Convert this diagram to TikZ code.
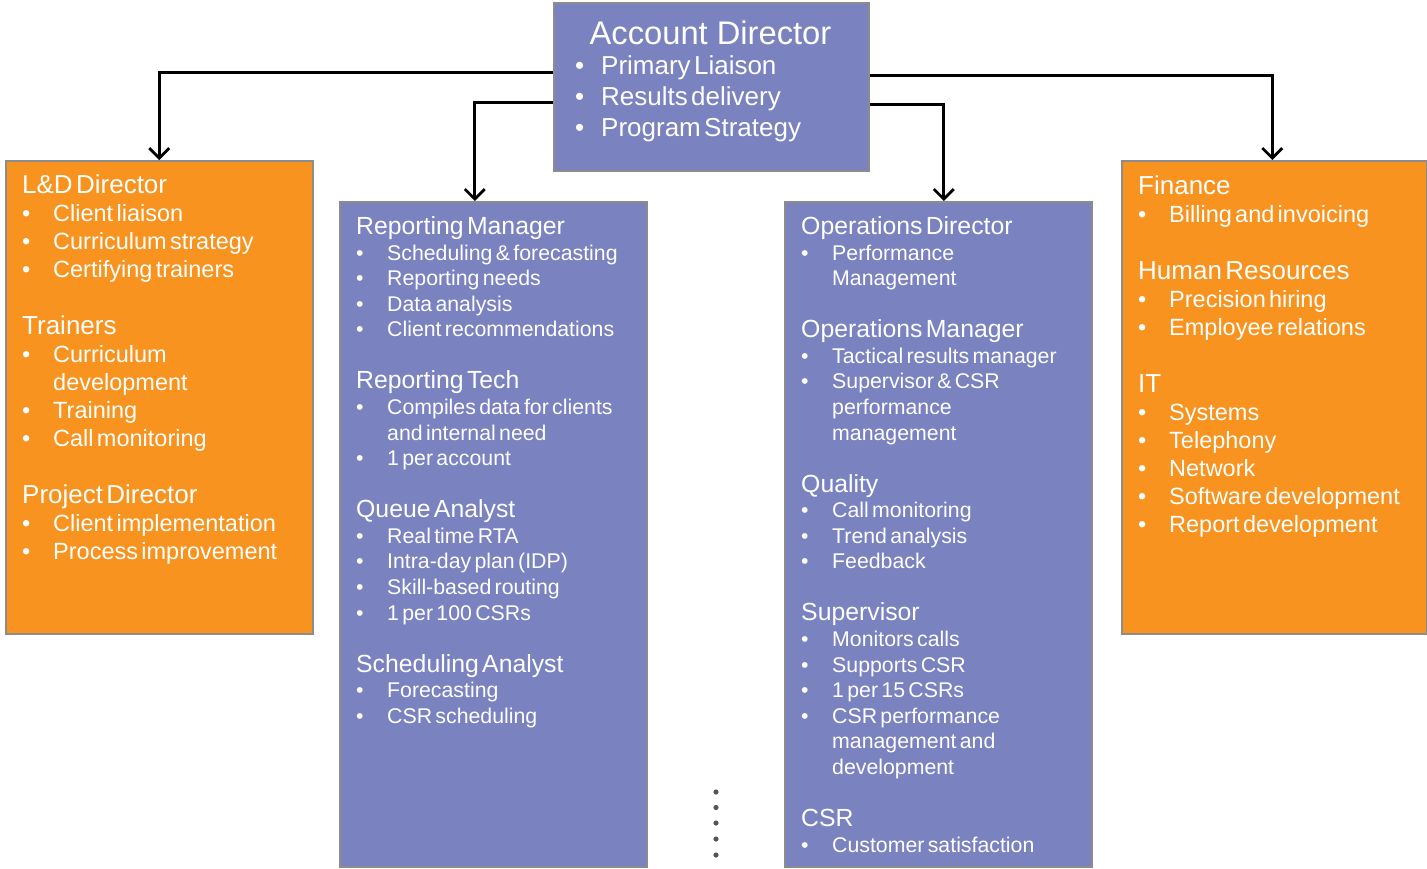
\documentclass[tikz,border=0pt]{standalone}
\usepackage{fontspec}
\setmainfont{Liberation Sans}
\usetikzlibrary{positioning,arrows.meta}

\definecolor{rolepurple}{RGB}{122,130,192}
\definecolor{roleorange}{RGB}{247,147,30}
\definecolor{roleline}{RGB}{140,140,140}
\definecolor{dotgray}{RGB}{85,85,85}

% headings and bullet lines inside the role boxes
\newcommand{\ohead}[1]{\noindent\fontsize{26}{28}\selectfont#1\par}
\newcommand{\oitem}[1]{\fontsize{23.5}{28}\selectfont\hangindent=31pt\hangafter=1\noindent\makebox[31pt][l]{\textbullet}#1\par}
\newcommand{\phead}[1]{\noindent\fontsize{24.8}{28}\selectfont#1\par}
\newcommand{\pitem}[1]{\fontsize{21.3}{25.6}\selectfont\hangindent=31pt\hangafter=1\noindent\makebox[31pt][l]{\textbullet}#1\par}
\newcommand{\aitem}[1]{\fontsize{26}{31}\selectfont\noindent\makebox[26pt][l]{\textbullet}#1\par}

\tikzset{
  rolebox/.style={draw=roleline, line width=1.5pt, minimum width=307pt, anchor=north west, inner sep=0pt},
  pbox/.style={rolebox, fill=rolepurple},
  obox/.style={rolebox, fill=roleorange},
  roletext/.style={anchor=base west, inner sep=0pt, text=white, align=left, text width=292pt},
  conn/.style={line width=2.8pt, -{Straight Barb[length=10pt,width=20pt]}}
}

\begin{document}
\begin{tikzpicture}[x=1pt, y=-1pt]
        \useasboundingbox (0,0) rectangle (1427,868);

        % Account Director on top
        \node[pbox, minimum width=315pt, minimum height=168pt] (ad) at (553,2) {};
        \node[anchor=base, inner sep=0pt, text=white, font=\fontsize{32.7}{36}\selectfont] (adtitle) at (710.5,44.5) {Account Director};
        \node[roletext, text width=285pt] (adlist) at (575,74) {%
          \aitem{Primary Liaison}
          \aitem{Results delivery}
          \aitem{Program Strategy}};

        % four role columns
        \node[obox, minimum height=473pt] (ld) at (5,160) {};
        \node[pbox, minimum height=665pt] (rep) at (339,201) {};
        \node[pbox, minimum height=665pt] (ops) at (784,201) {};
        \node[obox, minimum height=473pt, minimum width=305pt] (fin) at (1121,160) {};

        \node[roletext] (ldlist) at (22,193) {%
          \ohead{L\&D Director}
          \oitem{Client liaison}
          \oitem{Curriculum strategy}
          \oitem{Certifying trainers}
          \vspace{29pt}\ohead{Trainers}
          \oitem{Curriculum\newline development}
          \oitem{Training}
          \oitem{Call monitoring}
          \vspace{29pt}\ohead{Project Director}
          \oitem{Client implementation}
          \oitem{Process improvement}};

        \node[roletext] (replist) at (356,234.5) {%
          \phead{Reporting Manager}
          \pitem{Scheduling \& forecasting}
          \pitem{Reporting needs}
          \pitem{Data analysis}
          \pitem{Client recommendations}
          \vspace{24pt}\phead{Reporting Tech}
          \pitem{Compiles data for clients\newline and internal need}
          \pitem{1 per account}
          \vspace{24pt}\phead{Queue Analyst}
          \pitem{Real time RTA}
          \pitem{Intra-day plan (IDP)}
          \pitem{Skill-based routing}
          \pitem{1 per 100 CSRs}
          \vspace{24pt}\phead{Scheduling Analyst}
          \pitem{Forecasting}
          \pitem{CSR scheduling}};

        \node[roletext] (opslist) at (801,234.5) {%
          \phead{Operations Director}
          \pitem{Performance\newline Management}
          \vspace{24pt}\phead{Operations Manager}
          \pitem{Tactical results manager}
          \pitem{Supervisor \& CSR\newline performance\newline management}
          \vspace{24pt}\phead{Quality}
          \pitem{Call monitoring}
          \pitem{Trend analysis}
          \pitem{Feedback}
          \vspace{24pt}\phead{Supervisor}
          \pitem{Monitors calls}
          \pitem{Supports CSR}
          \pitem{1 per 15 CSRs}
          \pitem{CSR performance\newline management and\newline development}
          \vspace{24pt}\phead{CSR}
          \pitem{Customer satisfaction}};

        \node[roletext] (finlist) at (1138,194) {%
          \ohead{Finance}
          \oitem{Billing and invoicing}
          \vspace{29pt}\ohead{Human Resources}
          \oitem{Precision hiring}
          \oitem{Employee relations}
          \vspace{29pt}\ohead{IT}
          \oitem{Systems}
          \oitem{Telephony}
          \oitem{Network}
          \oitem{Software development}
          \oitem{Report development}};

        % reporting lines
        \draw[conn] ([yshift=14pt]ad.west) -| (ld.north);
        \draw[conn] ([yshift=-16pt]ad.west) -| ([xshift=-18.5pt]rep.north);
        \draw[conn] ([yshift=-18pt]ad.east) -| ([xshift=5.5pt]ops.north);
        \draw[conn] ([yshift=11pt]ad.east) -| ([xshift=-2pt]fin.north);

        % more rows below
        \foreach \y in {792,807.5,823,839,855}
          \fill[dotgray] (716,\y) circle (2.6pt);
    \end{tikzpicture}
\end{document}
